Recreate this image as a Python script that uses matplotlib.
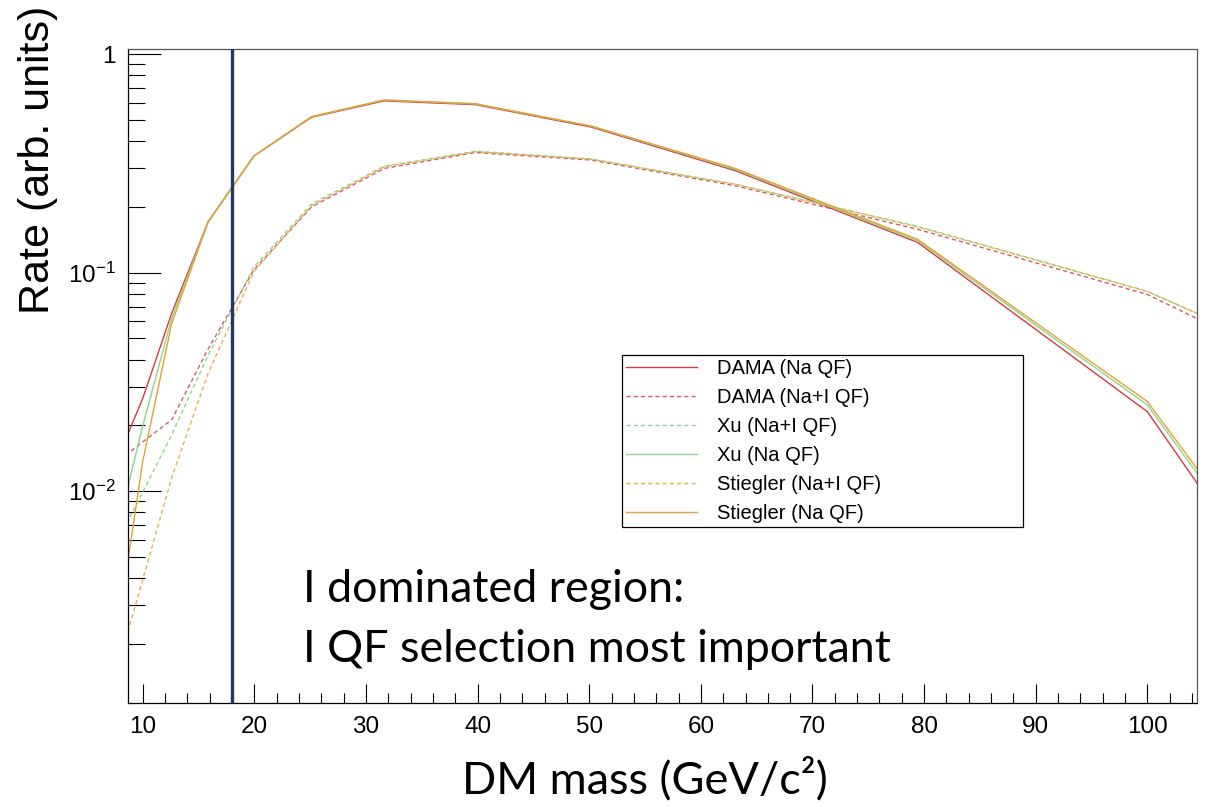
import matplotlib
matplotlib.use("Agg")
import matplotlib.pyplot as plt
import matplotlib.ticker as ticker

# DM masses (GeV/c^2), log spaced
mass = [7.94, 10.0, 12.59, 15.85, 19.95, 25.12, 31.62, 39.81, 50.12, 63.10, 79.43, 100.0, 125.89]

# rates with Na-only quenching factor
dama_na = [0.0149, 0.0266, 0.0652, 0.171, 0.342, 0.515, 0.612, 0.588, 0.465, 0.293, 0.1375, 0.0231, 0.00029]
xu_na = [0.0074, 0.0199, 0.0618, 0.171, 0.342, 0.518, 0.617, 0.592, 0.469, 0.297, 0.140, 0.0248, 0.00038]
stiegler_na = [0.0027, 0.0137, 0.0586, 0.170, 0.342, 0.518, 0.618, 0.594, 0.470, 0.300, 0.142, 0.0257, 0.00042]

# rates with Na+I quenching factors
dama_nai = [0.0139, 0.0168, 0.0212, 0.0447, 0.103, 0.200, 0.300, 0.355, 0.328, 0.250, 0.158, 0.0795, 0.0181]
xu_nai = [0.0062, 0.0099, 0.0181, 0.0419, 0.106, 0.206, 0.307, 0.360, 0.332, 0.254, 0.163, 0.0822, 0.0213]
stiegler_nai = [0.00169, 0.00394, 0.0115, 0.0346, 0.101, 0.203, 0.305, 0.358, 0.331, 0.254, 0.162, 0.0820, 0.0213]

threshold_mass = 18.0

ytick_vals = [1e-2, 1e-1, 1]
ytick_labels = [r"$\mathregular{10^{-2}}$", r"$\mathregular{10^{-1}}$", "1"]

note_lines = ["I dominated region:", "I QF selection most important"]

RED = "#d63a3f"
GREEN = "#8ed48c"
ORANGE = "#e6a235"
DASH = (3.0, 2.2)

plt.rcParams["font.family"] = ["Liberation Sans", "DejaVu Sans"]

fig = plt.figure(figsize=(12.08, 8.07), dpi=100)
ax = fig.add_axes([0.106, 0.1285, 0.8849, 0.8108])

series = [
	(dama_na, "DAMA (Na QF)", RED, "solid"),
	(dama_nai, "DAMA (Na+I QF)", "#d85a66", "dashed"),
	(xu_nai, "Xu (Na+I QF)", GREEN, "dashed"),
	(xu_na, "Xu (Na QF)", GREEN, "solid"),
	(stiegler_nai, "Stiegler (Na+I QF)", "#eab04a", "dashed"),
	(stiegler_na, "Stiegler (Na QF)", ORANGE, "solid"),
]

for values, label, color, style in series:
	line, = ax.plot(mass, values, color=color, lw=1.0, label=label)
	if style == "dashed":
		line.set_dashes(DASH)

ax.axvline(threshold_mass, color="#1f3866", lw=2.4, zorder=5)

ax.set_yscale("log")
ax.set_xlim(8.68, 104.45)
ax.set_ylim(0.001067, 1.0575)

# axis ticks, ROOT style (inside, no labels on minors)
ax.xaxis.set_major_locator(ticker.MultipleLocator(10))
ax.xaxis.set_minor_locator(ticker.MultipleLocator(2))
ax.yaxis.set_major_locator(ticker.FixedLocator(ytick_vals))
ax.yaxis.set_major_formatter(ticker.FixedFormatter(ytick_labels))
ax.yaxis.set_minor_locator(ticker.LogLocator(base=10, subs=range(2, 10)))
ax.yaxis.set_minor_formatter(ticker.NullFormatter())

ax.tick_params(axis="x", which="major", direction="in", length=13.7, width=0.8, labelsize=17.5, pad=9)
ax.tick_params(axis="x", which="minor", direction="in", length=7.2, width=0.8)
ax.tick_params(axis="y", which="major", direction="in", length=23.8, width=0.8, labelsize=17.5, pad=9)
ax.tick_params(axis="y", which="minor", direction="in", length=12.2, width=0.8)

for side in ["left", "bottom"]:
	ax.spines[side].set_color("black")
	ax.spines[side].set_linewidth(0.9)
for side in ["top", "right"]:
	ax.spines[side].set_color("#555555")
	ax.spines[side].set_linewidth(0.9)

# legend box
leg = ax.legend(loc="upper left", bbox_to_anchor=(0.5146, 0.3482, 0.332, 0.2119),
	bbox_transform=fig.transFigure, mode="expand", borderaxespad=0,
	fontsize=14.5, handlelength=3.5, handletextpad=1.0, labelspacing=0.49,
	borderpad=0.22, fancybox=False, framealpha=1, edgecolor="black")
leg.get_frame().set_linewidth(0.9)

# titles
fig.text(38 / 1208, 1 - 160 / 807, "Rate (arb. units)", rotation=90,
	ha="center", va="center", fontsize=31)
fig.text(645 / 1208, 1 - 793 / 807, "DM mass (GeV/c²)", ha="center", va="baseline",
	fontsize=32.5, family=["Lato", "DejaVu Sans"])

for i in range(len(note_lines)):
	fig.text(303 / 1208, 1 - (602 + 60 * i) / 807, note_lines[i], ha="left", va="baseline",
		fontsize=32.3, family=["Lato", "DejaVu Sans"])

fig.savefig("out.png", dpi=100)
plt.close()
